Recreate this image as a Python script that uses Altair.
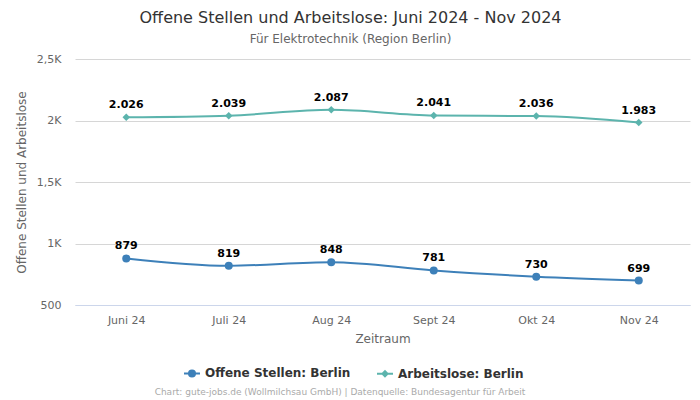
import altair as alt
import pandas as pd

months = ["Juni 24", "Juli 24", "Aug 24", "Sept 24", "Okt 24", "Nov 24"]
offene = [879, 819, 848, 781, 730, 699]
arbeitslose = [2026, 2039, 2087, 2041, 2036, 1983]
series = ["Offene Stellen: Berlin", "Arbeitslose: Berlin"]
colors = ["#3d80b9", "#5cb4ad"]
markers = ["circle", "diamond"]
y_ticks = [500, 1000, 1500, 2000, 2500]
footer = ["Chart: gute-jobs.de (Wollmilchsau GmbH) | Datenquelle: Bundesagentur für Arbeit"]

rows = []
for s, vals in zip(series, [offene, arbeitslose]):
    for m, v in zip(months, vals):
        rows.append({"Monat": m, "Wert": v, "Serie": s,
                     "Label": f"{v:,}".replace(",", ".")})
df = pd.DataFrame(rows)

FONT = "DejaVu Sans"

# legend symbols: short line with the series marker in the middle
shape_paths = [
    "M-1,0L-0.38,0M0.38,0L1,0M-0.38,0A0.38,0.38,0,1,1,0.38,0A0.38,0.38,0,1,1,-0.38,0Z",
    "M-1,0L-0.32,0M0.32,0L1,0M0,-0.32L0.32,0L0,0.32L-0.32,0Z",
]

x = alt.X("Monat:N", sort=months,
          scale=alt.Scale(type="point", padding=0.5),
          axis=alt.Axis(title="Zeitraum", labelAngle=0, ticks=False,
                        domainColor="#ccd6eb", labelColor="#666",
                        labelFont=FONT, labelFontSize=11, labelPadding=9,
                        titleFont=FONT, titleFontSize=12, titleColor="#666",
                        titleFontWeight="normal", titlePadding=8, grid=False))
y = alt.Y("Wert:Q",
          scale=alt.Scale(domain=[500, 2500], nice=False, zero=False),
          axis=alt.Axis(title="Offene Stellen und Arbeitslose", values=y_ticks,
                        labelExpr="datum.value >= 1000 ? replace(format(datum.value/1000, '.1~f'), '.', ',') + 'K' : format(datum.value, 'd')",
                        ticks=False, domain=False, gridColor="#d6d6d6",
                        labelColor="#666", labelFont=FONT, labelFontSize=11,
                        labelPadding=14, titleFont=FONT, titleFontSize=12,
                        titleColor="#666", titleFontWeight="normal",
                        titlePadding=8))

base = alt.Chart(df)

layers = []
for s, c, mk in zip(series, colors, markers):
    sub = base.transform_filter(alt.datum.Serie == s)
    layers.append(sub.mark_line(interpolate="monotone", strokeWidth=2, color=c)
                  .encode(x=x, y=y))
for s, c, mk in zip(series, colors, markers):
    sub = base.transform_filter(alt.datum.Serie == s)
    layers.append(sub.mark_point(filled=True, opacity=1, size=64 if mk == "circle" else 56,
                                 shape=mk, color=c).encode(x=x, y=y))

leg = alt.Legend(title=None, orient="none", direction="horizontal",
                 legendX=108, legendY=305,
                 labelFont=FONT, labelFontSize=12,
                 labelFontWeight="bold", labelColor="#333",
                 symbolSize=256, symbolStrokeWidth=2,
                 columnPadding=22, labelOffset=4)

legend_pts = base.transform_filter("false").mark_point(
    filled=True, opacity=1, size=256, strokeWidth=2).encode(
    x=x, y=y,
    fill=alt.Fill("Serie:N", scale=alt.Scale(domain=series, range=colors), legend=leg),
    stroke=alt.Stroke("Serie:N", scale=alt.Scale(domain=series, range=colors), legend=leg),
    shape=alt.Shape("Serie:N", scale=alt.Scale(domain=series, range=shape_paths), legend=leg),
)

labels = base.mark_text(dy=-12, fontWeight="bold", fontSize=11, font=FONT,
                        color="#000").encode(x=x, y=y, text="Label:N")

foot = alt.Chart(pd.DataFrame({"t": footer})).mark_text(
    fontSize=9, font=FONT, color="#aaa", align="center").encode(
    x=alt.value(265), y=alt.value(333), text="t:N")

chart = alt.layer(*layers, legend_pts, labels, foot).properties(
    width=615, height=246,
    autosize=alt.AutoSizeParams(type="none"),
    padding={"left": 67, "top": 51, "right": 2, "bottom": 95},
    title=alt.TitleParams(
        text="Offene Stellen und Arbeitslose: Juni 2024 - Nov 2024",
        subtitle="Für Elektrotechnik (Region Berlin)",
        font=FONT, fontSize=16, fontWeight="normal", color="#333",
        subtitleFont=FONT, subtitleFontSize=12, subtitleColor="#666",
        anchor="middle", dx=-32, offset=8, subtitlePadding=8),
).configure_view(stroke=None)

chart.save("out.html", embed_options={"renderer": "svg", "actions": False})
